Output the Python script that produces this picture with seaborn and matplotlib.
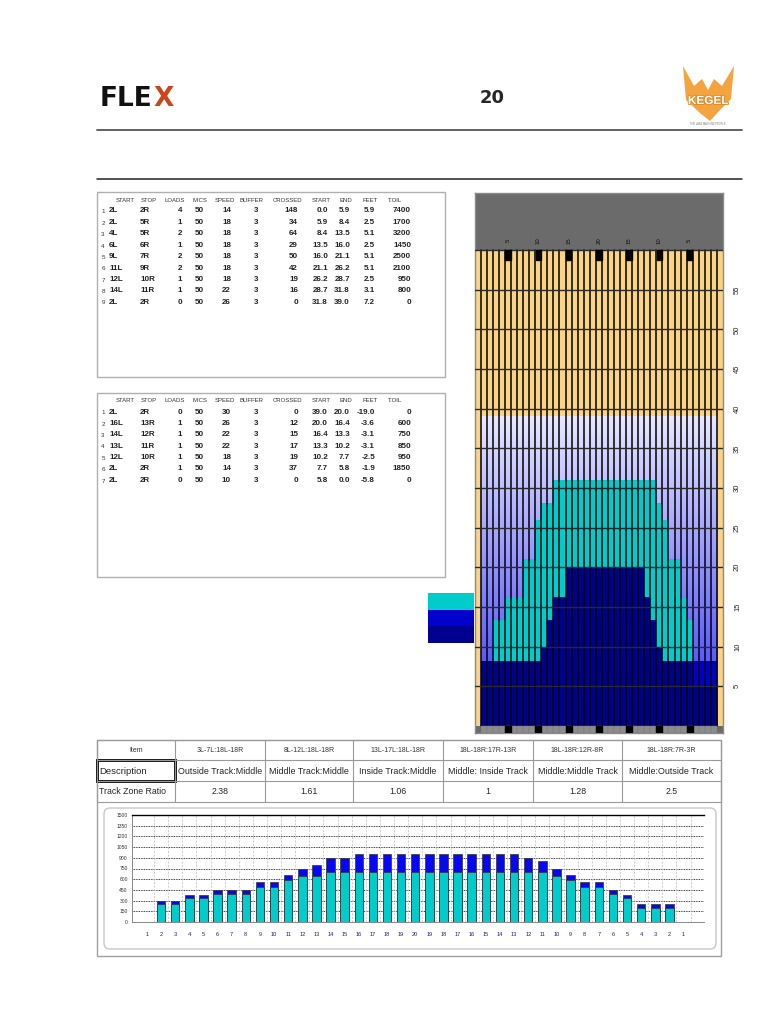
import numpy as np
import pandas as pd
import seaborn as sns
import matplotlib
matplotlib.use("Agg")
import matplotlib.pyplot as plt
from matplotlib.patches import Rectangle, FancyBboxPatch, Polygon
from matplotlib.colors import LinearSegmentedColormap
import matplotlib.patheffects as pe

# forward passes
fwd_start = ["2L", "2L", "4L", "6L", "9L", "11L", "12L", "14L", "2L"]
fwd_stop = ["2R", "5R", "5R", "6R", "7R", "9R", "10R", "11R", "2R"]
fwd_loads = [4, 1, 2, 1, 2, 2, 1, 1, 0]
fwd_mics = [50, 50, 50, 50, 50, 50, 50, 50, 50]
fwd_speed = [14, 18, 18, 18, 18, 18, 18, 22, 26]
fwd_buffer = [3, 3, 3, 3, 3, 3, 3, 3, 3]
fwd_crossed = [148, 34, 64, 29, 50, 42, 19, 16, 0]
fwd_from = ["0.0", "5.9", "8.4", "13.5", "16.0", "21.1", "26.2", "28.7", "31.8"]
fwd_end = ["5.9", "8.4", "13.5", "16.0", "21.1", "26.2", "28.7", "31.8", "39.0"]
fwd_feet = ["5.9", "2.5", "5.1", "2.5", "5.1", "5.1", "2.5", "3.1", "7.2"]
fwd_toil = [7400, 1700, 3200, 1450, 2500, 2100, 950, 800, 0]

# reverse passes
rev_start = ["2L", "16L", "14L", "13L", "12L", "2L", "2L"]
rev_stop = ["2R", "13R", "12R", "11R", "10R", "2R", "2R"]
rev_loads = [0, 1, 1, 1, 1, 1, 0]
rev_mics = [50, 50, 50, 50, 50, 50, 50]
rev_speed = [30, 26, 22, 22, 18, 14, 10]
rev_buffer = [3, 3, 3, 3, 3, 3, 3]
rev_crossed = [0, 12, 15, 17, 19, 37, 0]
rev_from = ["39.0", "20.0", "16.4", "13.3", "10.2", "7.7", "5.8"]
rev_end = ["20.0", "16.4", "13.3", "10.2", "7.7", "5.8", "0.0"]
rev_feet = ["-19.0", "-3.6", "-3.1", "-3.1", "-2.5", "-1.9", "-5.8"]
rev_toil = [0, 600, 750, 850, 950, 1850, 0]

# lane graph, feet per board (boards 1..39, left to right)
navy_top = [8.2, 8.2, 8.2, 8.2, 8.2, 8.2, 8.2, 8.2, 8.2, 8.2, 10, 13.4, 16.2,
            16.2, 20, 20, 20, 20, 20, 20, 20, 20, 20, 20, 20, 20, 20, 16.2,
            13.4, 10, 8.2, 8.2, 8.2, 8.2, 8.2, 5, 5, 5, 5]
mid_top = [0, 0, 0, 0, 0, 0, 0, 0, 0, 0, 0, 0, 0, 0, 0, 0, 0, 0, 0, 0, 0, 0,
           0, 0, 0, 0, 0, 0, 0, 0, 0, 0, 0, 0, 0, 8.2, 8.2, 8.2, 8.2]
cyan_top = [0, 0, 13.4, 13.4, 16.2, 16.2, 16.2, 21.1, 21.1, 26, 28.1, 28.1,
            31, 31, 31, 31, 31, 31, 31, 31, 31, 31, 31, 31, 31, 31, 31, 31, 31,
            28.1, 26, 21.1, 21.1, 16.2, 13.4, 0, 0, 0, 0]
oil_len = 39
arrow_labels = ["5", "10", "15", "20", "15", "10", "5"]

# track zone table
zone_items = ["3L-7L:18L-18R", "8L-12L:18L-18R", "13L-17L:18L-18R",
              "18L-18R:17R-13R", "18L-18R:12R-8R", "18L-18R:7R-3R"]
zone_desc = ["Outside Track:Middle", "Middle Track:Middle", "Inside Track:Middle",
             "Middle: Inside Track", "Middle:Middle Track", "Middle:Outside Track"]
zone_ratio = ["2.38", "1.61", "1.06", "1", "1.28", "2.5"]

# oil per board bar chart
board_labels = ["1", "2", "3", "4", "5", "6", "7", "8", "9", "10", "11", "12",
                "13", "14", "15", "16", "17", "18", "19", "20", "19", "18", "17",
                "16", "15", "14", "13", "12", "11", "10", "9", "8", "7", "6", "5",
                "4", "3", "2", "1"]
oil_total = [0, 295, 295, 385, 385, 455, 455, 455, 558, 558, 656, 750, 797, 900,
             900, 952, 952, 952, 952, 952, 952, 952, 952, 952, 952, 952, 952, 900,
             853, 750, 656, 558, 558, 455, 385, 258, 258, 258, 0]
oil_fwd = [0, 248, 248, 342, 342, 389, 389, 389, 492, 492, 595, 642, 642, 694,
           694, 694, 694, 694, 694, 694, 694, 694, 694, 694, 694, 694, 694, 694,
           694, 642, 595, 492, 492, 389, 342, 197, 197, 197, 0]

CYAN = "#00CCCC"
MID = "#0000CC"
NAVY = "#00008E"
TAN = "#F9D488"

sns.set_style("white")
plt.rcParams["font.family"] = ["Liberation Sans", "DejaVu Sans"]

W, H = 768, 1024
fig = plt.figure(figsize=(7.68, 10.24), dpi=100)

# page layer in pixel coordinates
pg = fig.add_axes([0, 0, 1, 1])
pg.set_xlim(0, W)
pg.set_ylim(H, 0)
pg.axis("off")

# header
fle = pg.text(100, 99.5, "FLE", fontsize=19, fontweight="heavy", color="#111111",
              ha="left", va="center", family="DejaVu Sans")
rend = fig.canvas.get_renderer()
fle_right = pg.transData.inverted().transform(
    (fle.get_window_extent(rend).x1, 0))[0]
pg.text(fle_right + 1, 99.5, "X", fontsize=19, fontweight="heavy",
        color="#C8471C", ha="left", va="center", family="DejaVu Sans")
pg.text(492, 98, "20", fontsize=13, fontweight="bold", ha="center", va="center",
        family="DejaVu Sans")
eagle = [(683, 66), (694, 86), (702, 79), (708, 90), (714, 79), (722, 86),
         (734, 66), (731, 99), (719, 111), (710, 121), (700, 113), (686, 100)]
pg.add_patch(Polygon(eagle, closed=True, color="#F4A33E", lw=0))
pg.text(708, 101, "KEGEL", fontsize=8.5, fontweight="bold", color="white",
        ha="center", va="center",
        path_effects=[pe.withStroke(linewidth=1.2, foreground="#D98A2A")])
pg.text(708, 124, "THE LANE MACHINE PEOPLE", fontsize=1.8, color="#777777",
        ha="center", va="center")
pg.plot([97, 742], [130, 130], color="#555555", lw=1.3)
pg.plot([97, 742], [179, 179], color="#222222", lw=1.1)


def draw_table(top, bottom, cols):
    pg.add_patch(Rectangle((97, top), 348, bottom - top, fill=False,
                           ec="#B0B0B0", lw=1))
    hdr = ["START", "STOP", "LOADS", "MICS", "SPEED", "BUFFER", "CROSSED",
           "START", "END", "FEET", "T.OIL"]
    hx = [125, 149, 174.5, 199.5, 224.5, 251, 287.5, 321.5, 345.5, 370, 395.5]
    for lab, x in zip(hdr, hx):
        pg.text(x, top + 8, lab, fontsize=4.3, color="#333333", ha="center",
                va="center")
    dx = [109, 140, 182, 199.5, 231, 258, 298, 328, 350, 375, 411]
    da = ["left", "left", "right", "center", "right", "right", "right", "right",
          "right", "right", "right"]
    n = len(cols[0])
    for i in range(n):
        y = top + 19 + i * 11.4
        pg.text(103, y + 0.8, str(i + 1), fontsize=4.5, color="#333333",
                ha="center", va="center")
        for col, x, a in zip(cols, dx, da):
            pg.text(x, y, str(col[i]), fontsize=5.8, fontweight="bold",
                    color="#222222", ha=a, va="center")


draw_table(192, 377, [fwd_start, fwd_stop, fwd_loads, fwd_mics, fwd_speed,
                      fwd_buffer, fwd_crossed, fwd_from, fwd_end, fwd_feet,
                      fwd_toil])
draw_table(393, 577, [rev_start, rev_stop, rev_loads, rev_mics, rev_speed,
                      rev_buffer, rev_crossed, rev_from, rev_end, rev_feet,
                      rev_toil])

# colour key beside the lane
for i, c in enumerate([CYAN, MID, NAVY]):
    pg.add_patch(Rectangle((428, 593 + i * 16.7), 46, 16.7, color=c, lw=0))

# track zone table
cx = [97, 175, 265, 353, 443, 533, 622, 721]
ry = [740, 760, 781, 802]
pg.add_patch(Rectangle((97, 740), 624, 216, fill=False, ec="#A0A0A0", lw=1))
for x in cx:
    pg.plot([x, x], [ry[0], ry[-1]], color="#9A9A9A", lw=0.8)
for y in ry:
    pg.plot([cx[0], cx[-1]], [y, y], color="#9A9A9A", lw=0.8)
pg.add_patch(Rectangle((97, 760), 78, 21, fill=False, ec="black", lw=2))
pg.text(136, 750, "Item", fontsize=5, color="#333333", ha="center", va="center")
pg.text(99, 771, "Description", fontsize=6.8, ha="left", va="center")
pg.text(99, 791, "Track Zone Ratio", fontsize=6.3, ha="left", va="center")
for j in range(6):
    mx = (cx[j + 1] + cx[j + 2]) / 2
    pg.text(mx, 750, zone_items[j], fontsize=5, color="#333333", ha="center",
            va="center")
    pg.text(mx, 771, zone_desc[j], fontsize=6.4, ha="center", va="center")
    pg.text(mx, 791, zone_ratio[j], fontsize=6.3, ha="center", va="center")
pg.add_patch(FancyBboxPatch((104, 808), 612, 141,
                            boxstyle="round,pad=0,rounding_size=6",
                            fill=False, ec="#C8C8C8", lw=1))

# lane graphic
lane = fig.add_axes([474.7 / W, 1 - 733 / H, 248.3 / W, 540 / H])
lane.set_facecolor("#6B6B6B")
lane.add_patch(Rectangle((-1.5, 0), 41, 60, color=TAN, lw=0, zorder=0))
grad = np.linspace(0, 1, 256).reshape(-1, 1)
gcmap = LinearSegmentedColormap.from_list("oilbg", ["#3434FF", "#E8E8FF"])
lane.imshow(grad, extent=(-0.5, 38.5, 0, oil_len), origin="lower", cmap=gcmap,
            aspect="auto", zorder=1)
df_lane = pd.DataFrame({"board": range(1, 40), "navy": navy_top,
                        "mid": mid_top, "cyan": cyan_top})
for col, c, z in [("cyan", CYAN, 2), ("mid", MID, 3), ("navy", NAVY, 4)]:
    sns.barplot(data=df_lane, x="board", y=col, color=c, saturation=1, width=1,
                errorbar=None, edgecolor="none", linewidth=0, zorder=z, ax=lane)
for k in range(40):
    lane.plot([k - 0.5, k - 0.5], [0, 60], color="black", lw=1.1, zorder=5)
for f in range(5, 61, 5):
    lane.plot([-1.5, 39.5], [f, f], color="#2A2A2A", lw=1, zorder=6)
for k in range(39):
    lane.add_patch(Rectangle((k - 0.5, -0.9), 1, 0.9, color="#8C8C8C", ec="#777777",
                             lw=0.3, zorder=5))
for i, lab in enumerate(arrow_labels):
    b = 4 + 5 * i
    lane.add_patch(Rectangle((b - 0.45, 58.8), 0.9, 1.2, color="black", zorder=7))
    lane.add_patch(Rectangle((b - 0.5, -0.9), 1, 0.9, color="black", zorder=7))
    lane.text(b, 61.2, lab, fontsize=4.3, rotation=90, ha="center", va="center",
              color="#111111")
for f in range(5, 60, 5):
    lane.text(41.9, f, str(f), fontsize=5.5, rotation=90, ha="center",
              va="center", clip_on=False)
lane.set_xlim(-1.5, 39.5)
lane.set_ylim(-0.9, 67.2)
lane.set_xlabel("")
lane.set_ylabel("")
lane.set_xticks([])
lane.set_yticks([])
for s in lane.spines.values():
    s.set_color("#8A8A8A")
    s.set_linewidth(1)

# oil per board bar chart
bx = fig.add_axes([132 / W, 1 - 922 / H, 572 / W, 107 / H])
df_bar = pd.DataFrame({"pos": range(39), "total": oil_total, "fwd": oil_fwd})
sns.barplot(data=df_bar, x="pos", y="total", color="#0808F0", saturation=1,
            width=0.6, errorbar=None, edgecolor="#333333", linewidth=0.5,
            zorder=3, ax=bx)
sns.barplot(data=df_bar, x="pos", y="fwd", color=CYAN, saturation=1, width=0.6,
            errorbar=None, edgecolor="#333333", linewidth=0.5, zorder=4, ax=bx)
bx.set_xlim(-1.06, 39.45)
bx.set_ylim(0, 1500)
bx.set_yticks(range(0, 1501, 150))
bx.set_xticks(range(39))
bx.set_xticklabels(board_labels, fontsize=4, color="#1A1A80")
bx.tick_params(axis="y", labelsize=3.6, length=2, width=0.5, pad=1,
               colors="#333333")
bx.tick_params(axis="x", length=2, width=0.5, pad=5)
bx.set_xlabel("")
bx.set_ylabel("")
for y in range(150, 1501, 150):
    bx.axhline(y, color="black", lw=0.6, ls=(0, (1, 1)), zorder=1)
for k in range(39):
    bx.axvline(k + 0.5, color="#BBBBBB", lw=0.5, ls=(0, (3, 2)), zorder=1)
bx.spines["top"].set_color("black")
bx.spines["top"].set_linewidth(1)
bx.spines["right"].set_visible(False)
for s in ["left", "bottom"]:
    bx.spines[s].set_color("#888888")
    bx.spines[s].set_linewidth(0.7)

fig.savefig("out.png", dpi=100)
